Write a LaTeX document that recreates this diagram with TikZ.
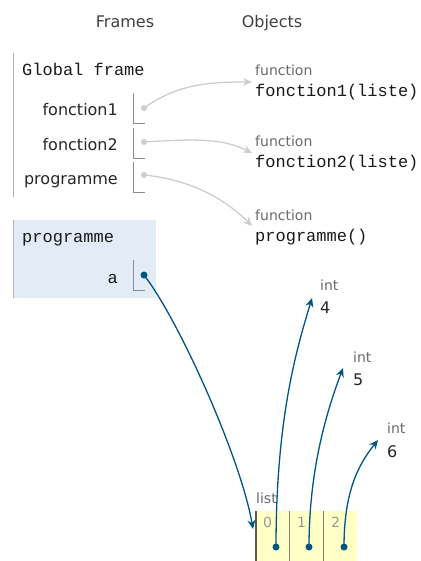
\documentclass[tikz,border=0pt]{standalone}
\usepackage{fontspec}
\setmainfont{DejaVu Sans}
\setmonofont{Liberation Mono}
\usetikzlibrary{positioning,arrows.meta}
\definecolor{ptblue}{RGB}{0,85,131}
\definecolor{ptgrey}{RGB}{205,205,205}
\definecolor{framebg}{RGB}{226,235,246}
\definecolor{listbg}{RGB}{255,255,198}
\definecolor{lbl}{RGB}{105,105,105}

\begin{document}
\begin{tikzpicture}[x=1pt, y=-1pt,
  hdr/.style={font=\fontsize{16}{18}\selectfont, text=black!75, anchor=base, inner sep=0pt},
  var/.style={font=\fontsize{16}{18}\selectfont, text=black!85, anchor=base east, inner sep=0pt},
  mono/.style={font=\ttfamily\fontsize{17}{19}\selectfont, text=black!90, anchor=base west, inner sep=0pt},
  small/.style={font=\fontsize{14}{16}\selectfont, text=lbl, anchor=base west, inner sep=0pt},
  val/.style={font=\fontsize{16}{18}\selectfont, text=black!85, anchor=base west, inner sep=0pt},
  idx/.style={font=\fontsize{14}{16}\selectfont, text=black!40, anchor=base west, inner sep=0pt},
  slot/.style={draw=black!45, line width=0.9pt},
  gdot/.style={circle, fill=ptgrey, inner sep=0pt, minimum size=6pt},
  bdot/.style={circle, fill=ptblue, inner sep=0pt, minimum size=7pt},
  gref/.style={draw=ptgrey, line width=1.3pt, -{Stealth[length=9pt,width=8pt]}},
  bref/.style={draw=ptblue, line width=1.3pt, -{Stealth[length=9pt,width=8pt]}}
]
  \useasboundingbox (0,0) rectangle (420,561);
  \fill[framebg] (13,220) rectangle (156,298);
  \draw[black!30, line width=1pt] (13,53) -- (13,197);
  \draw[black!30, line width=1pt] (13,220) -- (13,298);

  \node[hdr] (frames) at (125,28) {Frames};
  \node[hdr] (objects) at (272,28) {Objects};

  \node[mono] (global) at (22,76) {Global frame};
  \node[var] (v1) at (118,116) {fonction1};
  \node[var] (v2) at (118,151) {fonction2};
  \node[var] (v3) at (118,185) {programme};
  \foreach \y in {93,128,162,260}
    \draw[slot] (133,\y) |- +(12,30);
  \node[gdot] (d1) at (144,108) {};
  \node[gdot] (d2) at (144,142) {};
  \node[gdot] (d3) at (144,175) {};

  \node[mono] (progframe) at (22,242) {programme};
  \node[mono, anchor=base east] (va) at (118,283) {a};
  \node[bdot] (da) at (144,275) {};

  \node[small] (t1) at (255,76) {function};
  \node[mono] (o1) at (255,97) {fonction1(liste)};
  \node[small] (t2) at (255,147) {function};
  \node[mono] (o2) at (255,168) {fonction2(liste)};
  \node[small] (t3) at (255,220) {function};
  \node[mono] (o3) at (255,241) {programme()};

  \node[small] (ti4) at (320,290) {int};
  \node[val] (i4) at (320,313) {4};
  \node[small] (ti5) at (353,362) {int};
  \node[val] (i5) at (353,385) {5};
  \node[small] (ti6) at (387,433) {int};
  \node[val] (i6) at (387,457) {6};

  \node[small] (tl) at (256,503) {list};
  \fill[listbg] (256,511) rectangle (357,561);
  \draw[black!65, line width=1.6pt] (256,511) -- (256,561);
  \draw[black!50, line width=1pt] (289,511) -- (289,561);
  \draw[black!50, line width=1pt] (323,511) -- (323,561);
  \node[idx] (k0) at (263,527) {0};
  \node[idx] (k1) at (297,527) {1};
  \node[idx] (k2) at (331,527) {2};
  \node[bdot] (e0) at (276,547) {};
  \node[bdot] (e1) at (309,547) {};
  \node[bdot] (e2) at (344,547) {};

  \coordinate (f1in) at (252,82);
  \coordinate (f2in) at (252,153);
  \coordinate (f3in) at (252,226);
  \coordinate (lin) at (253,529);
  \coordinate (i4in) at (312,298);
  \coordinate (i5in) at (343,368);
  \coordinate (i6in) at (378,440);

  \draw[gref] (d1.center) .. controls +(35,-25) and +(-40,0) .. (f1in);
  \draw[gref] (d2.center) .. controls +(50,-3) and +(-30,-15) .. (f2in);
  \draw[gref] (d3.center) .. controls +(50,5) and +(-25,-25) .. (f3in);
  \draw[bref] (da.center) .. controls +(35,45) and +(-12,-70) .. (lin);
  \draw[bref] (e0.center) .. controls +(0,-130) and +(-15,50) .. (i4in);
  \draw[bref] (e1.center) .. controls +(0,-80) and +(-15,40) .. (i5in);
  \draw[bref] (e2.center) .. controls +(0,-55) and +(-20,25) .. (i6in);
\end{tikzpicture}
\end{document}
